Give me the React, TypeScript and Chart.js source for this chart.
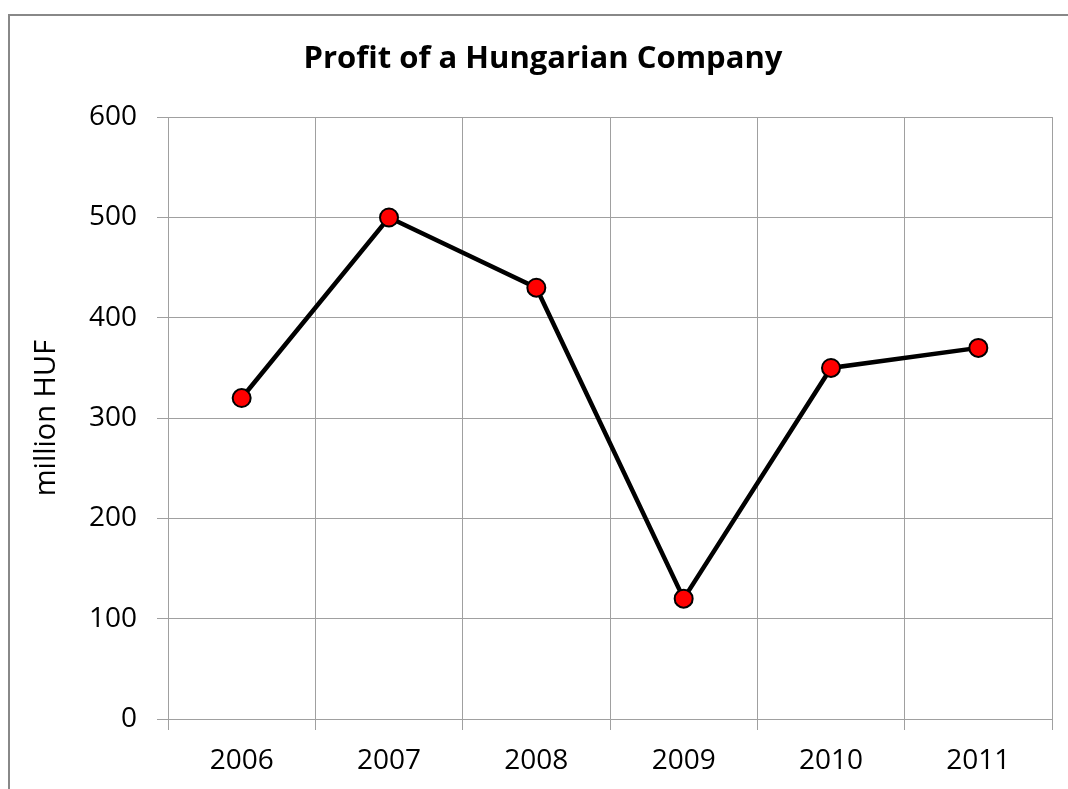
import React, { useEffect, useRef } from "react";
import { Chart, registerables } from "chart.js";

Chart.register(...registerables);

const years = ["2006", "2007", "2008", "2009", "2010", "2011"];
const profit = [320, 500, 430, 120, 350, 370];
const chartTitle = "Profit of a Hungarian Company";
const yAxisTitle = "million HUF";

const FONT = "'Open Sans', 'DejaVu Sans', sans-serif";
const GRID = "#a0a0a0";

export default function App() {
  const ref = useRef<HTMLCanvasElement | null>(null);

  useEffect(() => {
    const canvas = ref.current;
    if (!canvas) return;
    const chart = new Chart(canvas, {
      type: "line",
      data: {
        labels: years,
        datasets: [
          {
            data: profit,
            borderColor: "#000000",
            borderWidth: 4.5,
            pointRadius: 9,
            pointHoverRadius: 9,
            pointBackgroundColor: "#ff0000",
            pointBorderColor: "#000000",
            pointBorderWidth: 2,
            tension: 0,
            fill: false,
          },
        ],
      },
      options: {
        animation: false,
        responsive: false,
        devicePixelRatio: 1,
        layout: { padding: { left: 34, right: 16, top: 0, bottom: 0 } },
        plugins: {
          legend: { display: false },
          tooltip: { enabled: false },
          title: {
            display: true,
            text: chartTitle,
            color: "#000000",
            font: { family: FONT, size: 31, weight: "bold", lineHeight: 1.2 },
            padding: { top: 41, bottom: 39 },
          },
        },
        scales: {
          x: {
            type: "category",
            offset: true,
            grid: {
              offset: true,
              color: GRID,
              lineWidth: 1,
              tickLength: 11,
              drawTicks: true,
            },
            border: { display: true, color: GRID, width: 1 },
            ticks: {
              color: "#000000",
              padding: 14,
              font: { family: FONT, size: 28, lineHeight: 1.2 },
              maxRotation: 0,
            },
            afterFit: (scale: any) => {
              scale.height = 70;
            },
          },
          y: {
            min: 0,
            max: 600,
            grid: { color: GRID, lineWidth: 1, tickLength: 11, drawTicks: true },
            border: { display: true, color: GRID, width: 1 },
            ticks: {
              stepSize: 100,
              color: "#000000",
              padding: 20,
              font: { family: FONT, size: 28, lineHeight: 1.2 },
            },
            title: {
              display: true,
              text: yAxisTitle,
              color: "#000000",
              font: { family: FONT, size: 29, lineHeight: 1 },
              padding: { top: -2, bottom: 0 },
            },
            afterFit: (scale: any) => {
              scale.width = 134;
            },
          },
        },
      },
      plugins: [
        {
          id: "rightBorder",
          afterDraw: (c: any) => {
            const { ctx, chartArea } = c;
            ctx.save();
            ctx.strokeStyle = GRID;
            ctx.lineWidth = 1;
            ctx.beginPath();
            ctx.moveTo(chartArea.right + 0.5, chartArea.top);
            ctx.lineTo(chartArea.right + 0.5, chartArea.bottom + 11);
            ctx.stroke();
            ctx.restore();
          },
        },
      ],
    } as any);
    return () => chart.destroy();
  }, []);

  return (
    <div
      style={{
        position: "fixed",
        left: 0,
        top: 0,
        width: 1068,
        height: 789,
        overflow: "hidden",
        background: "#ffffff",
      }}
    >
      <div
        style={{
          position: "absolute",
          left: 8,
          top: 14,
          width: 1200,
          height: 900,
          borderLeft: "2px solid #888888",
          borderTop: "2px solid #888888",
        }}
      />
      <canvas
        ref={ref}
        width={1068}
        height={789}
        style={{ position: "absolute", left: 0, top: 0, width: 1068, height: 789 }}
      />
    </div>
  );
}
